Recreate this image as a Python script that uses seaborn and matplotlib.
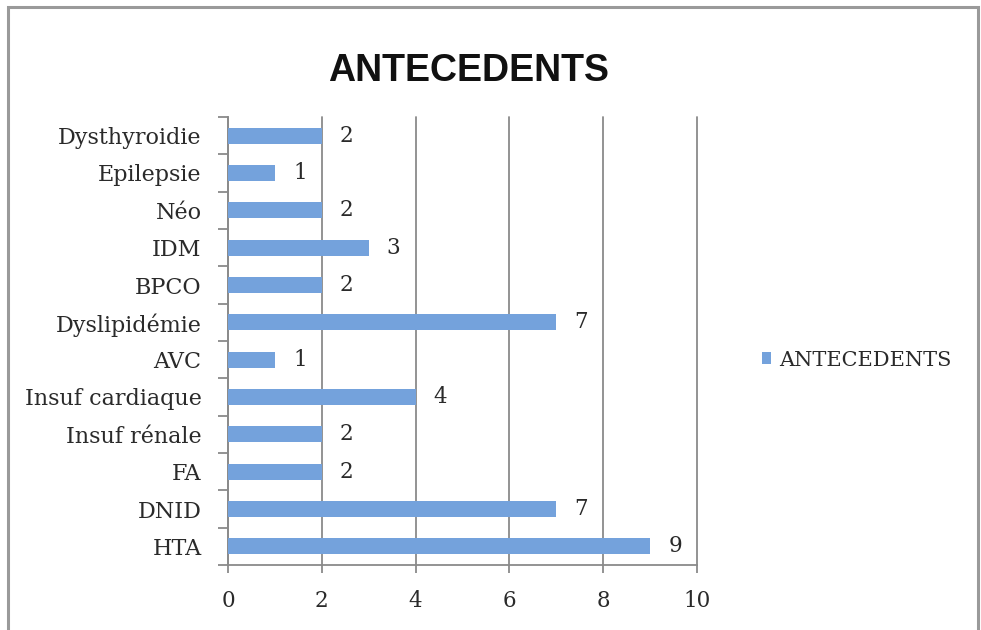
import matplotlib
matplotlib.use("Agg")
import matplotlib.pyplot as plt
import seaborn as sns
import pandas as pd
import numpy as np
from matplotlib.patches import Rectangle
from matplotlib.ticker import FixedLocator

categories = ["Dysthyroidie", "Epilepsie", "Néo", "IDM", "BPCO", "Dyslipidémie",
              "AVC", "Insuf cardiaque", "Insuf rénale", "FA", "DNID", "HTA"]
values = [2, 1, 2, 3, 2, 7, 1, 4, 2, 2, 7, 9]
series_name = "ANTECEDENTS"
x_ticks = [0, 2, 4, 6, 8, 10]

df = pd.DataFrame({"cat": categories, "val": values, "serie": series_name})

sns.set_theme(style="white")
plt.rcParams['font.family'] = ['DejaVu Serif']

W, H = 981, 630
fig = plt.figure(figsize=(W / 100, H / 100), dpi=100)
ax = fig.add_axes([228 / W, 1 - 565 / H, (697 - 228) / W, (565 - 117) / H])

bar_color = "#74a2dc"
sns.barplot(data=df, x="val", y="cat", hue="serie", orient="h", ax=ax,
            palette=[bar_color], saturation=1, width=0.42, legend=True, zorder=3,
            linewidth=0)

ax.set_xlim(0, 10)
ax.set_ylim(len(categories) - 0.5, -0.5)
ax.set_xticks(x_ticks)
ax.set_xticklabels([str(t) for t in x_ticks], fontsize=15.5, color="#2a2a2a")
ax.set_yticks(range(len(categories)))
ax.set_yticklabels(categories, fontsize=16, color="#2a2a2a")
ax.yaxis.set_minor_locator(FixedLocator(np.arange(-0.5, len(categories), 1.0)))
ax.tick_params(axis="y", which="major", length=0, pad=19)
ax.tick_params(axis="y", which="minor", length=7, width=1.3, color="#8a8a8a", left=True)
ax.tick_params(axis="x", which="major", length=6, width=1.3, color="#8a8a8a",
               bottom=True, pad=12)
ax.set_xlabel("")
ax.set_ylabel("")
ax.grid(axis="x", color="#8a8a8a", linewidth=1.3, zorder=0)
for gl in ax.get_xgridlines():
    gl.set_clip_on(False)
ax.set_axisbelow(True)
for side in ["top", "right"]:
    ax.spines[side].set_visible(False)
for side in ["left", "bottom"]:
    ax.spines[side].set_color("#8a8a8a")
    ax.spines[side].set_linewidth(1.3)

for container in ax.containers:
    ax.bar_label(container, labels=[str(v) for v in values], padding=13,
                 fontsize=15.5, color="#2a2a2a")

leg = ax.legend(loc="center left", bbox_to_anchor=(743 / W, 1 - 360 / H),
                bbox_transform=fig.transFigure, frameon=False, fontsize=15,
                handlelength=0.45, handleheight=0.45, handletextpad=0.4)
for t in leg.get_texts():
    t.set_color("#2a2a2a")

fig.text(469 / W, 1 - 71 / H, "ANTECEDENTS", ha="center", va="center",
         fontsize=27, fontweight="bold", family="Liberation Sans", color="#111111")

fig.patches.append(Rectangle((8 / W, -0.05), (978 - 8) / W, 1 - 7 / H + 0.05,
                             transform=fig.transFigure, fill=False,
                             edgecolor="#9a9a9a", linewidth=2.2))

fig.savefig("out.png", dpi=100)
